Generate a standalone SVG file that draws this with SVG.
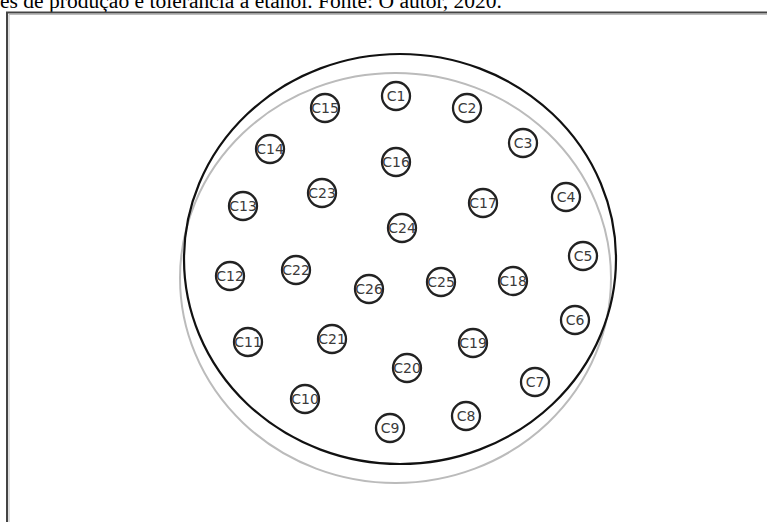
<svg xmlns="http://www.w3.org/2000/svg" width="767" height="522" viewBox="0 0 767 522">
<style>
.n circle{fill:none;stroke:#222;stroke-width:2.3}
.n text{font-family:"DejaVu Sans",Verdana,sans-serif;font-size:14px;fill:#3a3a3a;text-anchor:middle;dominant-baseline:central}
.cap{font-family:"Liberation Serif","Times New Roman",serif;font-size:21.6px;fill:#000}
</style>
<rect width="767" height="522" fill="#fff"/>
<text class="cap" x="0" y="8" textLength="502" lengthAdjust="spacingAndGlyphs">es de produção e tolerância a etanol. Fonte: O autor, 2020.</text>
<path d="M7,522 V12.5 H767" fill="none" stroke="#444" stroke-width="2"/>
<path d="M9,522 V14.5 H767" fill="none" stroke="#bbb" stroke-width="1"/>
<g id="plate">
<ellipse cx="395.5" cy="278" rx="215.5" ry="205" fill="none" stroke="#bbb" stroke-width="2"/>
<ellipse cx="400" cy="259" rx="216" ry="205" fill="none" stroke="#111" stroke-width="2.2"/>
</g>
<g id="connectors"></g>
<g id="C1" class="n"><circle cx="396" cy="96" r="14"/><text x="396" y="96">C1</text></g>
<g id="C2" class="n"><circle cx="467" cy="108" r="14"/><text x="467" y="108">C2</text></g>
<g id="C3" class="n"><circle cx="523" cy="143" r="14"/><text x="523" y="143">C3</text></g>
<g id="C4" class="n"><circle cx="566" cy="197" r="14"/><text x="566" y="197">C4</text></g>
<g id="C5" class="n"><circle cx="583" cy="256" r="14"/><text x="583" y="256">C5</text></g>
<g id="C6" class="n"><circle cx="575" cy="320" r="14"/><text x="575" y="320">C6</text></g>
<g id="C7" class="n"><circle cx="535" cy="382" r="14"/><text x="535" y="382">C7</text></g>
<g id="C8" class="n"><circle cx="466" cy="416" r="14"/><text x="466" y="416">C8</text></g>
<g id="C9" class="n"><circle cx="390" cy="428" r="14"/><text x="390" y="428">C9</text></g>
<g id="C10" class="n"><circle cx="305" cy="399" r="14"/><text x="305" y="399">C10</text></g>
<g id="C11" class="n"><circle cx="248" cy="342" r="14"/><text x="248" y="342">C11</text></g>
<g id="C12" class="n"><circle cx="230" cy="276" r="14"/><text x="230" y="276">C12</text></g>
<g id="C13" class="n"><circle cx="243" cy="206" r="14"/><text x="243" y="206">C13</text></g>
<g id="C14" class="n"><circle cx="270" cy="149" r="14"/><text x="270" y="149">C14</text></g>
<g id="C15" class="n"><circle cx="325" cy="108" r="14"/><text x="325" y="108">C15</text></g>
<g id="C16" class="n"><circle cx="396" cy="162" r="14"/><text x="396" y="162">C16</text></g>
<g id="C17" class="n"><circle cx="483" cy="203" r="14"/><text x="483" y="203">C17</text></g>
<g id="C18" class="n"><circle cx="513" cy="281" r="14"/><text x="513" y="281">C18</text></g>
<g id="C19" class="n"><circle cx="473" cy="343" r="14"/><text x="473" y="343">C19</text></g>
<g id="C20" class="n"><circle cx="407" cy="368" r="14"/><text x="407" y="368">C20</text></g>
<g id="C21" class="n"><circle cx="332" cy="339" r="14"/><text x="332" y="339">C21</text></g>
<g id="C22" class="n"><circle cx="296" cy="270" r="14"/><text x="296" y="270">C22</text></g>
<g id="C23" class="n"><circle cx="322" cy="193" r="14"/><text x="322" y="193">C23</text></g>
<g id="C24" class="n"><circle cx="402" cy="228" r="14"/><text x="402" y="228">C24</text></g>
<g id="C25" class="n"><circle cx="441" cy="282" r="14"/><text x="441" y="282">C25</text></g>
<g id="C26" class="n"><circle cx="369" cy="289" r="14"/><text x="369" y="289">C26</text></g>
</svg>
